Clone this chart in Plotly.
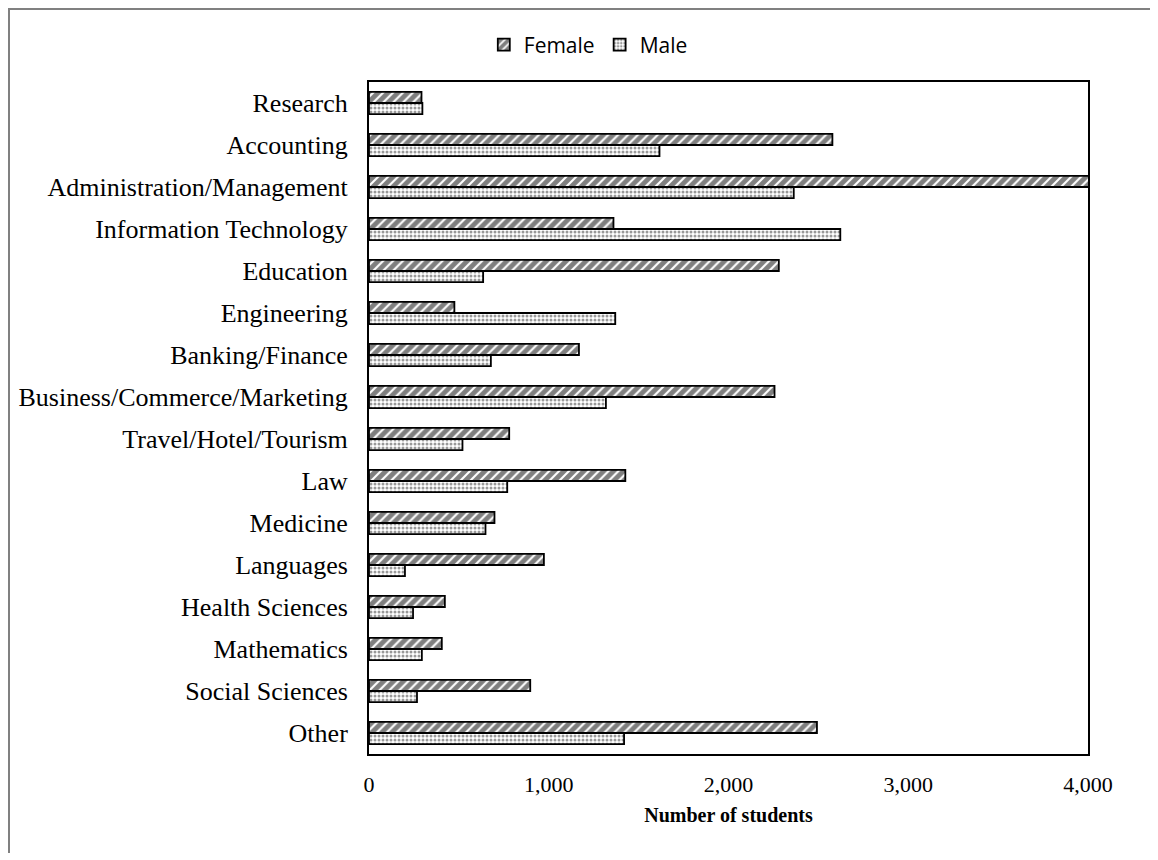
import plotly.graph_objects as go

categories = ["Research", "Accounting", "Administration/Management", "Information Technology",
              "Education", "Engineering", "Banking/Finance", "Business/Commerce/Marketing",
              "Travel/Hotel/Tourism", "Law", "Medicine", "Languages", "Health Sciences",
              "Mathematics", "Social Sciences", "Other"]
female = [292, 2578, 4050, 1360, 2280, 475, 1168, 2256, 780, 1426, 698, 973, 422, 405, 897, 2492]
male = [297, 1616, 2363, 2622, 635, 1370, 678, 1318, 520, 769, 648, 200, 245, 294, 267, 1419]
x_ticks = [0, 1000, 2000, 3000, 4000]
x_tick_labels = ["0", "1,000", "2,000", "3,000", "4,000"]

L, R, T, B = 361, 70, 74, 99
W, H = 1150, 845
PW, PH = W - L - R, H - T - B

fig = go.Figure()
fig.add_trace(go.Bar(
    y=categories, x=female, orientation="h", name="Female",
    marker=dict(color="white", line=dict(color="black", width=1.8),
                pattern=dict(shape="/", fgcolor="#000000", bgcolor="white", size=7, solidity=0.7)),
))
fig.add_trace(go.Bar(
    y=categories, x=male, orientation="h", name="Male",
    marker=dict(color="white", line=dict(color="black", width=1.8),
                pattern=dict(shape=".", fgcolor="#333333", bgcolor="white", size=4, solidity=0.45)),
))

fig.update_layout(
    width=W, height=H,
    barmode="group", bargap=0.47, bargroupgap=0,
    plot_bgcolor="white", paper_bgcolor="white",
    margin=dict(l=L, r=R, t=T, b=B, autoexpand=False),
    legend=dict(orientation="h", x=0.305, xanchor="center", y=1 + 37 / PH, yanchor="middle",
                font=dict(family="Open Sans", size=21, color="black"),
                itemwidth=30, traceorder="normal"),
    xaxis=dict(range=[0, 4000], tickvals=x_ticks, ticktext=x_tick_labels, automargin=False,
               showgrid=False, zeroline=False, showline=True, linecolor="black", linewidth=2,
               mirror=True, ticks="", ticklen=0, ticklabelstandoff=10,
               tickfont=dict(family="Liberation Serif", size=22, color="black"),
               title=dict(text="<b>Number of students</b>",
                          font=dict(family="Liberation Serif", size=20, color="black"), standoff=12)),
    yaxis=dict(autorange="reversed", showgrid=False, showline=True, linecolor="black", linewidth=2,
               mirror=True, ticks="", ticklen=0, ticklabelstandoff=14, automargin=False,
               tickfont=dict(family="Liberation Serif", size=26, color="black")),
    shapes=[dict(type="line", xref="paper", yref="paper", x0=-(L - 1) / PW, x1=-(L - 1) / PW,
                 y0=-2, y1=2, line=dict(color="#808080", width=2)),
            dict(type="line", xref="paper", yref="paper", x0=-1, x1=2,
                 y0=1 + (T - 1) / PH, y1=1 + (T - 1) / PH, line=dict(color="#808080", width=2))],
)
fig.write_html("out.html")
